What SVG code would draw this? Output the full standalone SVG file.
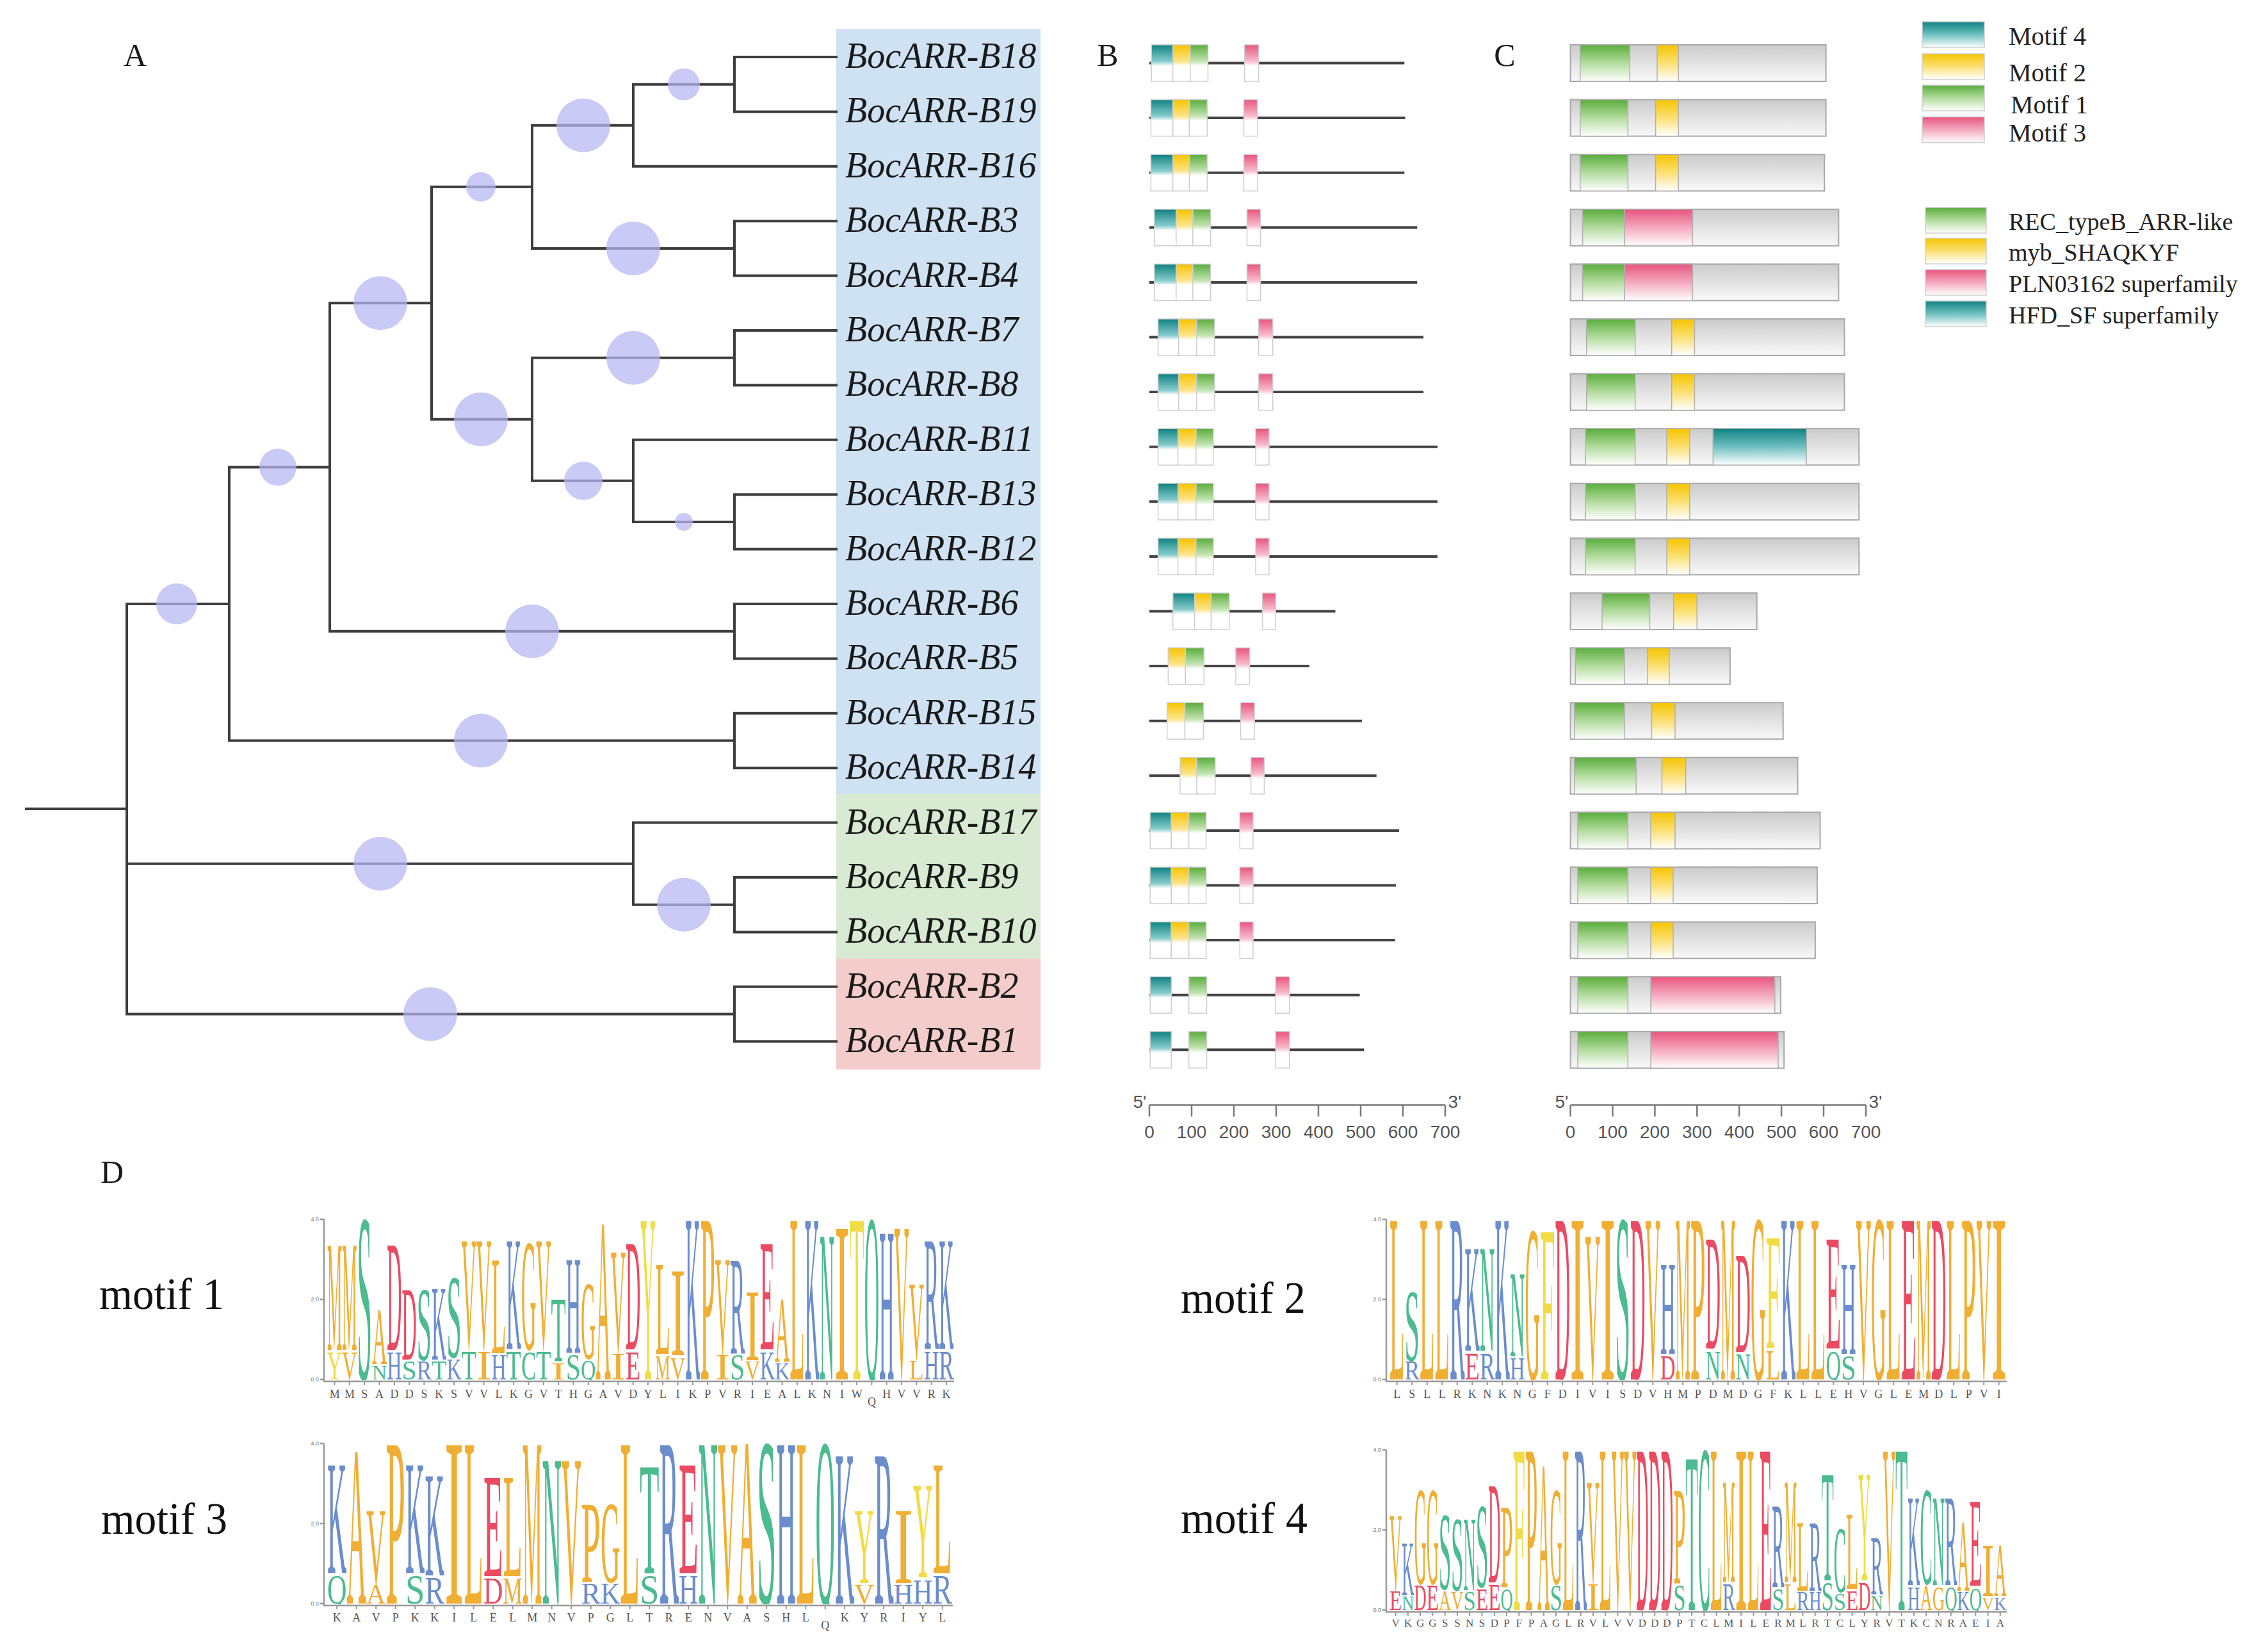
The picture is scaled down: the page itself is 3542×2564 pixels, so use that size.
<svg xmlns="http://www.w3.org/2000/svg" width="3542" height="2564" viewBox="0 0 3542 2564">
<defs>
<linearGradient id="gT" x1="0" y1="0" x2="0" y2="1"><stop offset="0" stop-color="#0f8282"/><stop offset="0.45" stop-color="#86cccc"/><stop offset="0.58" stop-color="#ffffff"/><stop offset="1" stop-color="#ffffff"/></linearGradient>
<linearGradient id="gY" x1="0" y1="0" x2="0" y2="1"><stop offset="0" stop-color="#f6c400"/><stop offset="0.45" stop-color="#fde48a"/><stop offset="0.58" stop-color="#ffffff"/><stop offset="1" stop-color="#ffffff"/></linearGradient>
<linearGradient id="gG" x1="0" y1="0" x2="0" y2="1"><stop offset="0" stop-color="#5aad3c"/><stop offset="0.45" stop-color="#c3e4b2"/><stop offset="0.58" stop-color="#ffffff"/><stop offset="1" stop-color="#ffffff"/></linearGradient>
<linearGradient id="gP" x1="0" y1="0" x2="0" y2="1"><stop offset="0" stop-color="#e9557e"/><stop offset="0.45" stop-color="#f7bccd"/><stop offset="0.58" stop-color="#ffffff"/><stop offset="1" stop-color="#ffffff"/></linearGradient>
<linearGradient id="cT" x1="0" y1="0" x2="0" y2="1"><stop offset="0" stop-color="#0f8282"/><stop offset="0.5" stop-color="#6fc0c0"/><stop offset="1" stop-color="#ffffff"/></linearGradient>
<linearGradient id="cY" x1="0" y1="0" x2="0" y2="1"><stop offset="0" stop-color="#f6c400"/><stop offset="0.5" stop-color="#fbe074"/><stop offset="1" stop-color="#ffffff"/></linearGradient>
<linearGradient id="cG" x1="0" y1="0" x2="0" y2="1"><stop offset="0" stop-color="#5aad3c"/><stop offset="0.5" stop-color="#b3dc9e"/><stop offset="1" stop-color="#ffffff"/></linearGradient>
<linearGradient id="cP" x1="0" y1="0" x2="0" y2="1"><stop offset="0" stop-color="#e9557e"/><stop offset="0.5" stop-color="#f4a9bf"/><stop offset="1" stop-color="#ffffff"/></linearGradient>
<linearGradient id="cGr" x1="0" y1="0" x2="0" y2="1"><stop offset="0" stop-color="#cbcbcb"/><stop offset="0.5" stop-color="#e2e2e2"/><stop offset="1" stop-color="#f9f9f9"/></linearGradient>
<clipPath id="lc" clipPathUnits="userSpaceOnUse"><rect x="-2" y="-20" width="604" height="120.5"/></clipPath>
<style>
.tl{fill:none;stroke:#3d3d3d;stroke-width:4;stroke-linecap:square}
.bs{fill:#b5b5f2;fill-opacity:0.72}
.lab{font-family:"Liberation Serif",serif;font-style:italic;font-size:56px;fill:#1a1a1a}
.pan{font-family:"Liberation Serif",serif;font-size:50px;fill:#1a1a1a;text-anchor:middle}
.gl{stroke:#444;stroke-width:4}
.bx{stroke:#cfcfcf;stroke-width:1.5}
.dm{stroke:#b0b0b0;stroke-width:1.5}
.bar{fill:url(#cGr);stroke:#a8a8a8;stroke-width:2}
.ax{stroke:#7a7a7a;stroke-width:2.5;fill:none}
.axt{font-family:"Liberation Sans",sans-serif;font-size:28px;fill:#555;text-anchor:middle}
.lt{font-family:"Liberation Serif",serif;font-size:40px;fill:#222}
.dt{font-family:"Liberation Serif",serif;font-size:38px;fill:#222}
.mt{font-family:"Liberation Serif",serif;font-size:70px;fill:#111}
.lg text{font-family:"Liberation Serif",serif}
.g{fill:#f0ae33}.y{fill:#f1dc45}.r{fill:#eb4a63}.b{fill:#6b8dcc}.n{fill:#4cbb8f}
.cs{font-family:"Liberation Serif",serif;font-size:18px;fill:#555;text-anchor:middle}
.lax{fill:none;stroke:#999;stroke-width:2.5}
.tk{stroke:#999;stroke-width:6}
.tkl{font-family:"Liberation Sans",sans-serif;font-size:9px;fill:#777;text-anchor:end}
</style>
</defs>
<rect width="3542" height="2564" fill="#ffffff"/>

<g id="panel-labels">
<text class="pan" x="211" y="103">A</text>
<text class="pan" x="1730" y="103">B</text>
<text class="pan" x="2350" y="103">C</text>
<text class="pan" x="175" y="1847">D</text>
</g>

<g id="clade-backgrounds">
<rect x="1306" y="45" width="319" height="1195" fill="#cfe2f3"/>
<rect x="1306" y="1240" width="319" height="257" fill="#d9ead3"/>
<rect x="1306" y="1497" width="319" height="173" fill="#f4cccc"/>
</g>

<g id="tree-branches">
<path class="tl" d="M41 1263H198M198 943V1583.5M198 943H358M198 1348.65H989M198 1583.5H1147
M358 729.5V1156.5M358 729.5H515M358 1156.5H1147
M515 473.3V985.7M515 473.3H674M515 985.7H1147
M674 291.8V654.8M674 291.8H831M674 654.8H831
M831 195.75V387.9M831 195.75H989M831 387.9H1147
M989 131.7V259.8M989 131.7H1147M989 259.8H1306
M1147 89V174.4M1147 89H1306M1147 174.4H1306
M1147 345.2V430.6M1147 345.2H1306M1147 430.6H1306
M831 558.7V750.85M831 558.7H1147M831 750.85H989
M1147 516V601.4M1147 516H1306M1147 601.4H1306
M989 686.8V814.9M989 686.8H1306M989 814.9H1147
M1147 772.2V857.6M1147 772.2H1306M1147 857.6H1306
M1147 943V1028.4M1147 943H1306M1147 1028.4H1306
M1147 1113.8V1199.2M1147 1113.8H1306M1147 1199.2H1306
M989 1284.6V1412.7M989 1284.6H1306M989 1412.7H1147
M1147 1370V1455.4M1147 1370H1306M1147 1455.4H1306
M1147 1540.8V1626.2M1147 1540.8H1306M1147 1626.2H1306"/>
</g>

<g id="bootstrap-circles">
<circle class="bs" cx="1068" cy="131.7" r="25"/>
<circle class="bs" cx="911" cy="195.75" r="42"/>
<circle class="bs" cx="751" cy="291.8" r="23"/>
<circle class="bs" cx="989" cy="387.9" r="42"/>
<circle class="bs" cx="594" cy="473.3" r="42"/>
<circle class="bs" cx="989" cy="558.7" r="42"/>
<circle class="bs" cx="751" cy="654.8" r="42"/>
<circle class="bs" cx="911" cy="750.85" r="30"/>
<circle class="bs" cx="1068" cy="814.9" r="14"/>
<circle class="bs" cx="434" cy="729.5" r="29"/>
<circle class="bs" cx="831" cy="985.7" r="42"/>
<circle class="bs" cx="276" cy="943" r="32"/>
<circle class="bs" cx="751" cy="1156.5" r="42"/>
<circle class="bs" cx="594" cy="1348.65" r="42"/>
<circle class="bs" cx="1068" cy="1412.7" r="42"/>
<circle class="bs" cx="672" cy="1583.5" r="42"/>
</g>

<g id="leaf-labels">
<g id="leaf-B18"><text class="lab" x="1320" y="106">BocARR-B18</text></g>
<g id="leaf-B19"><text class="lab" x="1320" y="191.4">BocARR-B19</text></g>
<g id="leaf-B16"><text class="lab" x="1320" y="276.8">BocARR-B16</text></g>
<g id="leaf-B3"><text class="lab" x="1320" y="362.2">BocARR-B3</text></g>
<g id="leaf-B4"><text class="lab" x="1320" y="447.6">BocARR-B4</text></g>
<g id="leaf-B7"><text class="lab" x="1320" y="533">BocARR-B7</text></g>
<g id="leaf-B8"><text class="lab" x="1320" y="618.4">BocARR-B8</text></g>
<g id="leaf-B11"><text class="lab" x="1320" y="703.8">BocARR-B11</text></g>
<g id="leaf-B13"><text class="lab" x="1320" y="789.2">BocARR-B13</text></g>
<g id="leaf-B12"><text class="lab" x="1320" y="874.6">BocARR-B12</text></g>
<g id="leaf-B6"><text class="lab" x="1320" y="960">BocARR-B6</text></g>
<g id="leaf-B5"><text class="lab" x="1320" y="1045.4">BocARR-B5</text></g>
<g id="leaf-B15"><text class="lab" x="1320" y="1130.8">BocARR-B15</text></g>
<g id="leaf-B14"><text class="lab" x="1320" y="1216.2">BocARR-B14</text></g>
<g id="leaf-B17"><text class="lab" x="1320" y="1301.6">BocARR-B17</text></g>
<g id="leaf-B9"><text class="lab" x="1320" y="1387">BocARR-B9</text></g>
<g id="leaf-B10"><text class="lab" x="1320" y="1472.4">BocARR-B10</text></g>
<g id="leaf-B2"><text class="lab" x="1320" y="1557.8">BocARR-B2</text></g>
<g id="leaf-B1"><text class="lab" x="1320" y="1643.2">BocARR-B1</text></g>
</g>

<g id="panel-B-genes">
<g id="gB18"><line class="gl" x1="1795" y1="98.5" x2="2193.3" y2="98.5"/><rect class="bx" x="1798.2" y="70" width="33.6" height="57" fill="url(#gT)"/><rect class="bx" x="1831.8" y="70" width="27" height="57" fill="url(#gY)"/><rect class="bx" x="1858.8" y="70" width="27.7" height="57" fill="url(#gG)"/><rect class="bx" x="1943.7" y="70" width="22" height="57" fill="url(#gP)"/></g>
<g id="gB19"><line class="gl" x1="1795" y1="184.1" x2="2194.5" y2="184.1"/><rect class="bx" x="1797.4" y="155.6" width="34.4" height="57" fill="url(#gT)"/><rect class="bx" x="1831.8" y="155.6" width="25.7" height="57" fill="url(#gY)"/><rect class="bx" x="1857.5" y="155.6" width="27.8" height="57" fill="url(#gG)"/><rect class="bx" x="1942.5" y="155.6" width="21.1" height="57" fill="url(#gP)"/></g>
<g id="gB16"><line class="gl" x1="1795" y1="269.7" x2="2193.3" y2="269.7"/><rect class="bx" x="1797.4" y="241.2" width="34.4" height="57" fill="url(#gT)"/><rect class="bx" x="1831.8" y="241.2" width="25.7" height="57" fill="url(#gY)"/><rect class="bx" x="1857.5" y="241.2" width="27.8" height="57" fill="url(#gG)"/><rect class="bx" x="1942.5" y="241.2" width="21.1" height="57" fill="url(#gP)"/></g>
<g id="gB3"><line class="gl" x1="1795" y1="355.3" x2="2213.2" y2="355.3"/><rect class="bx" x="1802.8" y="326.8" width="34" height="57" fill="url(#gT)"/><rect class="bx" x="1836.8" y="326.8" width="26.1" height="57" fill="url(#gY)"/><rect class="bx" x="1862.9" y="326.8" width="27.8" height="57" fill="url(#gG)"/><rect class="bx" x="1947.5" y="326.8" width="21.1" height="57" fill="url(#gP)"/></g>
<g id="gB4"><line class="gl" x1="1795" y1="440.9" x2="2213.2" y2="440.9"/><rect class="bx" x="1802.8" y="412.4" width="34" height="57" fill="url(#gT)"/><rect class="bx" x="1836.8" y="412.4" width="26.1" height="57" fill="url(#gY)"/><rect class="bx" x="1862.9" y="412.4" width="27.8" height="57" fill="url(#gG)"/><rect class="bx" x="1947.5" y="412.4" width="21.1" height="57" fill="url(#gP)"/></g>
<g id="gB7"><line class="gl" x1="1795" y1="526.5" x2="2223.1" y2="526.5"/><rect class="bx" x="1808.6" y="498" width="32.3" height="57" fill="url(#gT)"/><rect class="bx" x="1840.9" y="498" width="27.8" height="57" fill="url(#gY)"/><rect class="bx" x="1868.7" y="498" width="28.2" height="57" fill="url(#gG)"/><rect class="bx" x="1965.7" y="498" width="22" height="57" fill="url(#gP)"/></g>
<g id="gB8"><line class="gl" x1="1795" y1="612.1" x2="2223.1" y2="612.1"/><rect class="bx" x="1808.6" y="583.6" width="32.3" height="57" fill="url(#gT)"/><rect class="bx" x="1840.9" y="583.6" width="27.8" height="57" fill="url(#gY)"/><rect class="bx" x="1868.7" y="583.6" width="28.2" height="57" fill="url(#gG)"/><rect class="bx" x="1965.7" y="583.6" width="22" height="57" fill="url(#gP)"/></g>
<g id="gB11"><line class="gl" x1="1795" y1="697.7" x2="2245" y2="697.7"/><rect class="bx" x="1808.6" y="669.2" width="31.1" height="57" fill="url(#gT)"/><rect class="bx" x="1839.7" y="669.2" width="28.2" height="57" fill="url(#gY)"/><rect class="bx" x="1867.9" y="669.2" width="26.9" height="57" fill="url(#gG)"/><rect class="bx" x="1961.1" y="669.2" width="20.8" height="57" fill="url(#gP)"/></g>
<g id="gB13"><line class="gl" x1="1795" y1="783.3" x2="2245" y2="783.3"/><rect class="bx" x="1808.6" y="754.8" width="31.1" height="57" fill="url(#gT)"/><rect class="bx" x="1839.7" y="754.8" width="28.2" height="57" fill="url(#gY)"/><rect class="bx" x="1867.9" y="754.8" width="26.9" height="57" fill="url(#gG)"/><rect class="bx" x="1961.1" y="754.8" width="20.8" height="57" fill="url(#gP)"/></g>
<g id="gB12"><line class="gl" x1="1795" y1="868.9" x2="2245" y2="868.9"/><rect class="bx" x="1808.6" y="840.4" width="31.1" height="57" fill="url(#gT)"/><rect class="bx" x="1839.7" y="840.4" width="28.2" height="57" fill="url(#gY)"/><rect class="bx" x="1867.9" y="840.4" width="26.9" height="57" fill="url(#gG)"/><rect class="bx" x="1961.1" y="840.4" width="20.8" height="57" fill="url(#gP)"/></g>
<g id="gB6"><line class="gl" x1="1795" y1="954.5" x2="2085.5" y2="954.5"/><rect class="bx" x="1831.8" y="926" width="34" height="57" fill="url(#gT)"/><rect class="bx" x="1865.8" y="926" width="25.7" height="57" fill="url(#gY)"/><rect class="bx" x="1891.5" y="926" width="28.2" height="57" fill="url(#gG)"/><rect class="bx" x="1971.5" y="926" width="20.7" height="57" fill="url(#gP)"/></g>
<g id="gB5"><line class="gl" x1="1795" y1="1040.1" x2="2044.9" y2="1040.1"/><rect class="bx" x="1824.4" y="1011.6" width="26.9" height="57" fill="url(#gY)"/><rect class="bx" x="1851.3" y="1011.6" width="29" height="57" fill="url(#gG)"/><rect class="bx" x="1930" y="1011.6" width="21.6" height="57" fill="url(#gP)"/></g>
<g id="gB15"><line class="gl" x1="1795" y1="1125.7" x2="2126.9" y2="1125.7"/><rect class="bx" x="1822.7" y="1097.2" width="27.8" height="57" fill="url(#gY)"/><rect class="bx" x="1850.5" y="1097.2" width="29" height="57" fill="url(#gG)"/><rect class="bx" x="1937.5" y="1097.2" width="21.6" height="57" fill="url(#gP)"/></g>
<g id="gB14"><line class="gl" x1="1795" y1="1211.3" x2="2149.7" y2="1211.3"/><rect class="bx" x="1843" y="1182.8" width="26.1" height="57" fill="url(#gY)"/><rect class="bx" x="1869.1" y="1182.8" width="28.6" height="57" fill="url(#gG)"/><rect class="bx" x="1953.7" y="1182.8" width="20.7" height="57" fill="url(#gP)"/></g>
<g id="gB17"><line class="gl" x1="1795" y1="1296.9" x2="2185" y2="1296.9"/><rect class="bx" x="1796.2" y="1268.4" width="33.1" height="57" fill="url(#gT)"/><rect class="bx" x="1829.3" y="1268.4" width="27.4" height="57" fill="url(#gY)"/><rect class="bx" x="1856.7" y="1268.4" width="26.9" height="57" fill="url(#gG)"/><rect class="bx" x="1936.3" y="1268.4" width="20.7" height="57" fill="url(#gP)"/></g>
<g id="gB9"><line class="gl" x1="1795" y1="1382.5" x2="2180" y2="1382.5"/><rect class="bx" x="1796.2" y="1354" width="33.1" height="57" fill="url(#gT)"/><rect class="bx" x="1829.3" y="1354" width="27.4" height="57" fill="url(#gY)"/><rect class="bx" x="1856.7" y="1354" width="26.9" height="57" fill="url(#gG)"/><rect class="bx" x="1936.3" y="1354" width="20.7" height="57" fill="url(#gP)"/></g>
<g id="gB10"><line class="gl" x1="1795" y1="1468.1" x2="2178.8" y2="1468.1"/><rect class="bx" x="1796.2" y="1439.6" width="33.1" height="57" fill="url(#gT)"/><rect class="bx" x="1829.3" y="1439.6" width="27.4" height="57" fill="url(#gY)"/><rect class="bx" x="1856.7" y="1439.6" width="26.9" height="57" fill="url(#gG)"/><rect class="bx" x="1936.3" y="1439.6" width="20.7" height="57" fill="url(#gP)"/></g>
<g id="gB2"><line class="gl" x1="1795" y1="1553.7" x2="2123.6" y2="1553.7"/><rect class="bx" x="1796.2" y="1525.2" width="33.1" height="57" fill="url(#gT)"/><rect class="bx" x="1856.7" y="1525.2" width="27.8" height="57" fill="url(#gG)"/><rect class="bx" x="1992.2" y="1525.2" width="21.6" height="57" fill="url(#gP)"/></g>
<g id="gB1"><line class="gl" x1="1795" y1="1639.3" x2="2130.3" y2="1639.3"/><rect class="bx" x="1796.2" y="1610.8" width="33.1" height="57" fill="url(#gT)"/><rect class="bx" x="1856.7" y="1610.8" width="27.8" height="57" fill="url(#gG)"/><rect class="bx" x="1992.2" y="1610.8" width="21.6" height="57" fill="url(#gP)"/></g>
</g>

<g id="scale-B">
<path class="ax" d="M1795 1725.5H2257M1795 1725.5v18M1861 1725.5v18M1927 1725.5v18M1993 1725.5v18M2059 1725.5v18M2125 1725.5v18M2191 1725.5v18M2257 1725.5v18"/>
<text class="axt" x="1780" y="1730">5'</text><text class="axt" x="2272" y="1730">3'</text>
<text class="axt" x="1795" y="1777">0</text><text class="axt" x="1861" y="1777">100</text><text class="axt" x="1927" y="1777">200</text><text class="axt" x="1993" y="1777">300</text><text class="axt" x="2059" y="1777">400</text><text class="axt" x="2125" y="1777">500</text><text class="axt" x="2191" y="1777">600</text><text class="axt" x="2257" y="1777">700</text>
</g>

<g id="panel-C-proteins">
<g id="pB18"><rect class="bar" x="2452.6" y="70" width="399" height="57"/><rect class="dm" x="2467.8" y="70" width="77.5" height="57" fill="url(#cG)"/><rect class="dm" x="2588" y="70" width="33.3" height="57" fill="url(#cY)"/></g>
<g id="pB19"><rect class="bar" x="2452.6" y="155.6" width="399" height="57"/><rect class="dm" x="2467.8" y="155.6" width="74.5" height="57" fill="url(#cG)"/><rect class="dm" x="2585.6" y="155.6" width="35.7" height="57" fill="url(#cY)"/></g>
<g id="pB16"><rect class="bar" x="2452.6" y="241.2" width="396.7" height="57"/><rect class="dm" x="2467.8" y="241.2" width="74.5" height="57" fill="url(#cG)"/><rect class="dm" x="2585.6" y="241.2" width="35.7" height="57" fill="url(#cY)"/></g>
<g id="pB3"><rect class="bar" x="2452.6" y="326.8" width="418.8" height="57"/><rect class="dm" x="2471.6" y="326.8" width="65.4" height="57" fill="url(#cG)"/><rect class="dm" x="2537" y="326.8" width="106.4" height="57" fill="url(#cP)"/></g>
<g id="pB4"><rect class="bar" x="2452.6" y="412.4" width="418.8" height="57"/><rect class="dm" x="2471.6" y="412.4" width="65.4" height="57" fill="url(#cG)"/><rect class="dm" x="2537" y="412.4" width="106.4" height="57" fill="url(#cP)"/></g>
<g id="pB7"><rect class="bar" x="2452.6" y="498" width="427.9" height="57"/><rect class="dm" x="2477.7" y="498" width="76" height="57" fill="url(#cG)"/><rect class="dm" x="2610.7" y="498" width="35.7" height="57" fill="url(#cY)"/></g>
<g id="pB8"><rect class="bar" x="2452.6" y="583.6" width="427.9" height="57"/><rect class="dm" x="2477.7" y="583.6" width="76" height="57" fill="url(#cG)"/><rect class="dm" x="2610.7" y="583.6" width="35.7" height="57" fill="url(#cY)"/></g>
<g id="pB11"><rect class="bar" x="2452.6" y="669.2" width="450.7" height="57"/><rect class="dm" x="2476.2" y="669.2" width="77.5" height="57" fill="url(#cG)"/><rect class="dm" x="2603" y="669.2" width="35.8" height="57" fill="url(#cY)"/><rect class="dm" x="2675.3" y="669.2" width="145.9" height="57" fill="url(#cT)"/></g>
<g id="pB13"><rect class="bar" x="2452.6" y="754.8" width="450.7" height="57"/><rect class="dm" x="2476.2" y="754.8" width="77.5" height="57" fill="url(#cG)"/><rect class="dm" x="2603" y="754.8" width="35.8" height="57" fill="url(#cY)"/></g>
<g id="pB12"><rect class="bar" x="2452.6" y="840.4" width="450.7" height="57"/><rect class="dm" x="2476.2" y="840.4" width="77.5" height="57" fill="url(#cG)"/><rect class="dm" x="2603" y="840.4" width="35.8" height="57" fill="url(#cY)"/></g>
<g id="pB6"><rect class="bar" x="2452.6" y="926" width="291.1" height="57"/><rect class="dm" x="2502" y="926" width="74.5" height="57" fill="url(#cG)"/><rect class="dm" x="2613.7" y="926" width="36.5" height="57" fill="url(#cY)"/></g>
<g id="pB5"><rect class="bar" x="2452.6" y="1011.6" width="249.3" height="57"/><rect class="dm" x="2460.2" y="1011.6" width="76.8" height="57" fill="url(#cG)"/><rect class="dm" x="2572.7" y="1011.6" width="34.2" height="57" fill="url(#cY)"/></g>
<g id="pB15"><rect class="bar" x="2452.6" y="1097.2" width="332.1" height="57"/><rect class="dm" x="2458.7" y="1097.2" width="78.3" height="57" fill="url(#cG)"/><rect class="dm" x="2579.5" y="1097.2" width="36.5" height="57" fill="url(#cY)"/></g>
<g id="pB14"><rect class="bar" x="2452.6" y="1182.8" width="354.9" height="57"/><rect class="dm" x="2458.7" y="1182.8" width="96.5" height="57" fill="url(#cG)"/><rect class="dm" x="2595.5" y="1182.8" width="37.2" height="57" fill="url(#cY)"/></g>
<g id="pB17"><rect class="bar" x="2452.6" y="1268.4" width="389.9" height="57"/><rect class="dm" x="2464" y="1268.4" width="78.3" height="57" fill="url(#cG)"/><rect class="dm" x="2578" y="1268.4" width="38" height="57" fill="url(#cY)"/></g>
<g id="pB9"><rect class="bar" x="2452.6" y="1354" width="385.3" height="57"/><rect class="dm" x="2464" y="1354" width="78.3" height="57" fill="url(#cG)"/><rect class="dm" x="2578" y="1354" width="35" height="57" fill="url(#cY)"/></g>
<g id="pB10"><rect class="bar" x="2452.6" y="1439.6" width="382.3" height="57"/><rect class="dm" x="2464" y="1439.6" width="78.3" height="57" fill="url(#cG)"/><rect class="dm" x="2578" y="1439.6" width="35" height="57" fill="url(#cY)"/></g>
<g id="pB2"><rect class="bar" x="2452.6" y="1525.2" width="328.3" height="57"/><rect class="dm" x="2464" y="1525.2" width="78.3" height="57" fill="url(#cG)"/><rect class="dm" x="2578" y="1525.2" width="193.8" height="57" fill="url(#cP)"/></g>
<g id="pB1"><rect class="bar" x="2452.6" y="1610.8" width="333.6" height="57"/><rect class="dm" x="2464" y="1610.8" width="78.3" height="57" fill="url(#cG)"/><rect class="dm" x="2578" y="1610.8" width="199.1" height="57" fill="url(#cP)"/></g>
</g>

<g id="scale-C">
<path class="ax" d="M2452.6 1725.5H2914M2452.6 1725.5v18M2518.5 1725.5v18M2584.4 1725.5v18M2650.3 1725.5v18M2716.2 1725.5v18M2782.1 1725.5v18M2848 1725.5v18M2914 1725.5v18"/>
<text class="axt" x="2439" y="1730">5'</text><text class="axt" x="2929" y="1730">3'</text>
<text class="axt" x="2452.6" y="1777">0</text><text class="axt" x="2518.5" y="1777">100</text><text class="axt" x="2584.4" y="1777">200</text><text class="axt" x="2650.3" y="1777">300</text><text class="axt" x="2716.2" y="1777">400</text><text class="axt" x="2782.1" y="1777">500</text><text class="axt" x="2848" y="1777">600</text><text class="axt" x="2914" y="1777">700</text>
</g>

<g id="legend-motifs">
<g id="lm4"><rect class="bx" x="3002" y="34" width="97" height="40" fill="url(#cT)"/><text class="lt" x="3137" y="70">Motif 4</text></g>
<g id="lm2"><rect class="bx" x="3002" y="84" width="97" height="40" fill="url(#cY)"/><text class="lt" x="3137" y="127">Motif 2</text></g>
<g id="lm1"><rect class="bx" x="3002" y="133" width="97" height="40" fill="url(#cG)"/><text class="lt" x="3140" y="177">Motif 1</text></g>
<g id="lm3"><rect class="bx" x="3002" y="182.5" width="97" height="40" fill="url(#cP)"/><text class="lt" x="3137" y="221">Motif 3</text></g>
</g>
<g id="legend-domains">
<g id="ld1"><rect class="bx" x="3007" y="324" width="95" height="40" fill="url(#cG)"/><text class="dt" x="3137" y="359">REC_typeB_ARR-like</text></g>
<g id="ld2"><rect class="bx" x="3007" y="372" width="95" height="40" fill="url(#cY)"/><text class="dt" x="3137" y="407">myb_SHAQKYF</text></g>
<g id="ld3"><rect class="bx" x="3007" y="421" width="95" height="40" fill="url(#cP)"/><text class="dt" x="3137" y="456">PLN03162 superfamily</text></g>
<g id="ld4"><rect class="bx" x="3007" y="470" width="95" height="40" fill="url(#cT)"/><text class="dt" x="3137" y="505">HFD_SF superfamily</text></g>
</g>

<g id="motif-titles">
<text class="mt" x="155" y="2044" textLength="195" lengthAdjust="spacingAndGlyphs">motif 1</text>
<text class="mt" x="1844" y="2050" textLength="195" lengthAdjust="spacingAndGlyphs">motif 2</text>
<text class="mt" x="158" y="2395" textLength="197" lengthAdjust="spacingAndGlyphs">motif 3</text>
<text class="mt" x="1844" y="2394" textLength="198" lengthAdjust="spacingAndGlyphs">motif 4</text>
</g>

<g id="logo1-axes">
<path class="lax" d="M506 1904V2157H1490M500 1904h6M500 2029h6M500 2154h6"/>
<line class="tk" x1="521.6" y1="2160" x2="1490" y2="2160" stroke-dasharray="2 21.3"/>
<text class="tkl" x="498" y="1907">4.0</text><text class="tkl" x="498" y="2032">2.0</text><text class="tkl" x="498" y="2157">0.0</text>
<text class="cs" x="522.7 546 569.3 592.6 615.9 639.2 662.5 685.8 709.1 732.4 755.7 779 802.3 825.6 848.9 872.2 895.5 918.8 942.1 965.4 988.7 1012 1035.3 1058.6 1081.9 1105.2 1128.5 1151.8 1175.1 1198.4 1221.7 1245 1268.3 1291.6 1314.9 1338.2 1384.8 1408.1 1431.4 1454.7 1478" y="2183">MMSADDSKSVVLKGVTHGAVDYLIKPVRIEALKNIWHVVRK</text>
<text class="cs" x="1361.5" y="2195">Q</text>
</g>
<g id="logo1" class="lg" clip-path="url(#lc)" transform="translate(511,1904) scale(2.33,2.5)">
<text class="g" x="0" y="81.5" font-size="99" textLength="10" lengthAdjust="spacingAndGlyphs">M</text><text class="y" x="0" y="100" font-size="25.4" textLength="10" lengthAdjust="spacingAndGlyphs">Y</text>
<text class="g" x="10" y="81.5" font-size="99" textLength="10" lengthAdjust="spacingAndGlyphs">M</text><text class="g" x="10" y="100" font-size="25.4" textLength="10" lengthAdjust="spacingAndGlyphs">V</text>
<text class="n" x="20" y="100" font-size="151" textLength="10" lengthAdjust="spacingAndGlyphs">S</text>
<text class="g" x="30" y="90.5" font-size="50.7" textLength="10" lengthAdjust="spacingAndGlyphs">A</text><text class="n" x="30" y="100" font-size="13" textLength="10" lengthAdjust="spacingAndGlyphs">N</text>
<text class="r" x="40" y="81.5" font-size="99" textLength="10" lengthAdjust="spacingAndGlyphs">D</text><text class="b" x="40" y="100" font-size="25.4" textLength="10" lengthAdjust="spacingAndGlyphs">H</text>
<text class="r" x="50" y="87.7" font-size="66" textLength="10" lengthAdjust="spacingAndGlyphs">D</text><text class="n" x="50" y="100" font-size="16.9" textLength="10" lengthAdjust="spacingAndGlyphs">S</text>
<text class="n" x="60" y="87.7" font-size="66" textLength="10" lengthAdjust="spacingAndGlyphs">S</text><text class="b" x="60" y="100" font-size="16.9" textLength="10" lengthAdjust="spacingAndGlyphs">R</text>
<text class="b" x="70" y="87.5" font-size="67.1" textLength="10" lengthAdjust="spacingAndGlyphs">K</text><text class="n" x="70" y="100" font-size="17.2" textLength="10" lengthAdjust="spacingAndGlyphs">T</text>
<text class="n" x="80" y="86.1" font-size="74.2" textLength="10" lengthAdjust="spacingAndGlyphs">S</text><text class="b" x="80" y="100" font-size="19" textLength="10" lengthAdjust="spacingAndGlyphs">K</text>
<text class="g" x="90" y="80.9" font-size="102.5" textLength="10" lengthAdjust="spacingAndGlyphs">V</text><text class="n" x="90" y="100" font-size="26.3" textLength="10" lengthAdjust="spacingAndGlyphs">T</text>
<text class="g" x="100" y="80.9" font-size="102.5" textLength="10" lengthAdjust="spacingAndGlyphs">V</text><text class="g" x="100" y="100" font-size="26.3" textLength="10" lengthAdjust="spacingAndGlyphs">I</text>
<text class="g" x="110" y="83.5" font-size="88.4" textLength="10" lengthAdjust="spacingAndGlyphs">L</text><text class="b" x="110" y="100" font-size="22.7" textLength="10" lengthAdjust="spacingAndGlyphs">H</text>
<text class="b" x="120" y="80.9" font-size="102.5" textLength="10" lengthAdjust="spacingAndGlyphs">K</text><text class="n" x="120" y="100" font-size="26.3" textLength="10" lengthAdjust="spacingAndGlyphs">T</text>
<text class="g" x="130" y="81.3" font-size="100.1" textLength="10" lengthAdjust="spacingAndGlyphs">G</text><text class="n" x="130" y="100" font-size="25.7" textLength="10" lengthAdjust="spacingAndGlyphs">C</text>
<text class="g" x="140" y="80.9" font-size="102.5" textLength="10" lengthAdjust="spacingAndGlyphs">V</text><text class="n" x="140" y="100" font-size="26.3" textLength="10" lengthAdjust="spacingAndGlyphs">T</text>
<text class="n" x="150" y="89" font-size="58.9" textLength="10" lengthAdjust="spacingAndGlyphs">T</text><text class="g" x="150" y="100" font-size="15.1" textLength="10" lengthAdjust="spacingAndGlyphs">I</text>
<text class="b" x="160" y="83.5" font-size="88.4" textLength="10" lengthAdjust="spacingAndGlyphs">H</text><text class="n" x="160" y="100" font-size="22.7" textLength="10" lengthAdjust="spacingAndGlyphs">S</text>
<text class="g" x="170" y="86.8" font-size="70.7" textLength="10" lengthAdjust="spacingAndGlyphs">G</text><text class="n" x="170" y="100" font-size="18.1" textLength="10" lengthAdjust="spacingAndGlyphs">Q</text>
<text class="g" x="180" y="100" font-size="146.5" textLength="10" lengthAdjust="spacingAndGlyphs">A</text>
<text class="g" x="190" y="82.4" font-size="94.2" textLength="10" lengthAdjust="spacingAndGlyphs">V</text><text class="g" x="190" y="100" font-size="24.2" textLength="10" lengthAdjust="spacingAndGlyphs">I</text>
<text class="r" x="200" y="81.3" font-size="100.1" textLength="10" lengthAdjust="spacingAndGlyphs">D</text><text class="r" x="200" y="100" font-size="25.7" textLength="10" lengthAdjust="spacingAndGlyphs">E</text>
<text class="y" x="210" y="100" font-size="151" textLength="10" lengthAdjust="spacingAndGlyphs">Y</text>
<text class="g" x="220" y="84.2" font-size="84.8" textLength="10" lengthAdjust="spacingAndGlyphs">L</text><text class="g" x="220" y="100" font-size="21.7" textLength="10" lengthAdjust="spacingAndGlyphs">M</text>
<text class="g" x="230" y="85" font-size="80.1" textLength="10" lengthAdjust="spacingAndGlyphs">I</text><text class="g" x="230" y="100" font-size="20.5" textLength="10" lengthAdjust="spacingAndGlyphs">V</text>
<text class="b" x="240" y="100" font-size="151" textLength="10" lengthAdjust="spacingAndGlyphs">K</text>
<text class="g" x="250" y="100" font-size="151" textLength="10" lengthAdjust="spacingAndGlyphs">P</text>
<text class="g" x="260" y="83.5" font-size="88.4" textLength="10" lengthAdjust="spacingAndGlyphs">V</text><text class="g" x="260" y="100" font-size="22.7" textLength="10" lengthAdjust="spacingAndGlyphs">I</text>
<text class="b" x="270" y="83.5" font-size="88.4" textLength="10" lengthAdjust="spacingAndGlyphs">R</text><text class="n" x="270" y="100" font-size="22.7" textLength="10" lengthAdjust="spacingAndGlyphs">S</text>
<text class="g" x="280" y="87.9" font-size="64.8" textLength="10" lengthAdjust="spacingAndGlyphs">I</text><text class="g" x="280" y="100" font-size="16.6" textLength="10" lengthAdjust="spacingAndGlyphs">V</text>
<text class="r" x="290" y="81.3" font-size="100.1" textLength="10" lengthAdjust="spacingAndGlyphs">E</text><text class="b" x="290" y="100" font-size="25.7" textLength="10" lengthAdjust="spacingAndGlyphs">K</text>
<text class="g" x="300" y="89" font-size="58.9" textLength="10" lengthAdjust="spacingAndGlyphs">A</text><text class="b" x="300" y="100" font-size="15.1" textLength="10" lengthAdjust="spacingAndGlyphs">K</text>
<text class="g" x="310" y="100" font-size="151" textLength="10" lengthAdjust="spacingAndGlyphs">L</text>
<text class="b" x="320" y="100" font-size="151" textLength="10" lengthAdjust="spacingAndGlyphs">K</text>
<text class="n" x="330" y="100" font-size="135.9" textLength="10" lengthAdjust="spacingAndGlyphs">N</text>
<text class="g" x="340" y="100" font-size="143.5" textLength="10" lengthAdjust="spacingAndGlyphs">I</text>
<text class="y" x="350" y="100" font-size="151" textLength="10" lengthAdjust="spacingAndGlyphs">T</text>
<text class="n" x="360" y="100" font-size="151" textLength="10" lengthAdjust="spacingAndGlyphs">Q</text>
<text class="b" x="370" y="100" font-size="138.9" textLength="10" lengthAdjust="spacingAndGlyphs">H</text>
<text class="g" x="380" y="100" font-size="143.5" textLength="10" lengthAdjust="spacingAndGlyphs">V</text>
<text class="g" x="390" y="86.8" font-size="70.7" textLength="10" lengthAdjust="spacingAndGlyphs">V</text><text class="g" x="390" y="100" font-size="18.1" textLength="10" lengthAdjust="spacingAndGlyphs">L</text>
<text class="b" x="400" y="80.9" font-size="102.5" textLength="10" lengthAdjust="spacingAndGlyphs">R</text><text class="b" x="400" y="100" font-size="26.3" textLength="10" lengthAdjust="spacingAndGlyphs">H</text>
<text class="b" x="410" y="80.9" font-size="102.5" textLength="10" lengthAdjust="spacingAndGlyphs">K</text><text class="b" x="410" y="100" font-size="26.3" textLength="10" lengthAdjust="spacingAndGlyphs">R</text>
</g>

<g id="logo2-axes">
<path class="lax" d="M2165 1904V2157H3134M2159 1904h6M2159 2029h6M2159 2154h6"/>
<line class="tk" x1="2180.7" y1="2160" x2="3134" y2="2160" stroke-dasharray="2 21.5"/>
<text class="tkl" x="2157" y="1907">4.0</text><text class="tkl" x="2157" y="2032">2.0</text><text class="tkl" x="2157" y="2157">0.0</text>
<text class="cs" x="2181.8 2205.3 2228.8 2252.3 2275.8 2299.3 2322.8 2346.3 2369.8 2393.3 2416.8 2440.3 2463.8 2487.3 2510.8 2534.3 2557.8 2581.3 2604.8 2628.3 2651.8 2675.3 2698.8 2722.3 2745.8 2769.3 2792.8 2816.3 2839.8 2863.3 2886.8 2910.3 2933.8 2957.3 2980.8 3004.3 3027.8 3051.3 3074.8 3098.3 3121.8" y="2183">LSLLRKNKNGFDIVISDVHMPDMDGFKLLEHVGLEMDLPVI</text>
</g>
<g id="logo2" class="lg" clip-path="url(#lc)" transform="translate(2170,1904) scale(2.35,2.5)">
<text class="g" x="0" y="100" font-size="151" textLength="10" lengthAdjust="spacingAndGlyphs">L</text>
<text class="n" x="10" y="87.9" font-size="64.8" textLength="10" lengthAdjust="spacingAndGlyphs">S</text><text class="b" x="10" y="100" font-size="16.6" textLength="10" lengthAdjust="spacingAndGlyphs">R</text>
<text class="g" x="20" y="100" font-size="151" textLength="10" lengthAdjust="spacingAndGlyphs">L</text>
<text class="g" x="30" y="100" font-size="151" textLength="10" lengthAdjust="spacingAndGlyphs">L</text>
<text class="b" x="40" y="100" font-size="151" textLength="10" lengthAdjust="spacingAndGlyphs">R</text>
<text class="b" x="50" y="82" font-size="96.6" textLength="10" lengthAdjust="spacingAndGlyphs">K</text><text class="r" x="50" y="100" font-size="24.8" textLength="10" lengthAdjust="spacingAndGlyphs">E</text>
<text class="n" x="60" y="82" font-size="96.6" textLength="10" lengthAdjust="spacingAndGlyphs">N</text><text class="b" x="60" y="100" font-size="24.8" textLength="10" lengthAdjust="spacingAndGlyphs">R</text>
<text class="b" x="70" y="100" font-size="151" textLength="10" lengthAdjust="spacingAndGlyphs">K</text>
<text class="n" x="80" y="85.5" font-size="77.7" textLength="10" lengthAdjust="spacingAndGlyphs">N</text><text class="b" x="80" y="100" font-size="19.9" textLength="10" lengthAdjust="spacingAndGlyphs">H</text>
<text class="g" x="90" y="100" font-size="140.4" textLength="10" lengthAdjust="spacingAndGlyphs">G</text>
<text class="y" x="100" y="100" font-size="140.4" textLength="10" lengthAdjust="spacingAndGlyphs">F</text>
<text class="r" x="110" y="100" font-size="151" textLength="10" lengthAdjust="spacingAndGlyphs">D</text>
<text class="g" x="120" y="100" font-size="151" textLength="10" lengthAdjust="spacingAndGlyphs">I</text>
<text class="g" x="130" y="100" font-size="135.9" textLength="10" lengthAdjust="spacingAndGlyphs">V</text>
<text class="g" x="140" y="100" font-size="151" textLength="10" lengthAdjust="spacingAndGlyphs">I</text>
<text class="n" x="150" y="100" font-size="151" textLength="10" lengthAdjust="spacingAndGlyphs">S</text>
<text class="r" x="160" y="100" font-size="151" textLength="10" lengthAdjust="spacingAndGlyphs">D</text>
<text class="g" x="170" y="100" font-size="151" textLength="10" lengthAdjust="spacingAndGlyphs">V</text>
<text class="b" x="180" y="84.2" font-size="84.8" textLength="10" lengthAdjust="spacingAndGlyphs">H</text><text class="r" x="180" y="100" font-size="21.7" textLength="10" lengthAdjust="spacingAndGlyphs">D</text>
<text class="g" x="190" y="100" font-size="151" textLength="10" lengthAdjust="spacingAndGlyphs">M</text>
<text class="g" x="200" y="100" font-size="151" textLength="10" lengthAdjust="spacingAndGlyphs">P</text>
<text class="r" x="210" y="80.6" font-size="103.7" textLength="10" lengthAdjust="spacingAndGlyphs">D</text><text class="n" x="210" y="100" font-size="26.6" textLength="10" lengthAdjust="spacingAndGlyphs">N</text>
<text class="g" x="220" y="100" font-size="151" textLength="10" lengthAdjust="spacingAndGlyphs">M</text>
<text class="r" x="230" y="82.8" font-size="91.9" textLength="10" lengthAdjust="spacingAndGlyphs">D</text><text class="n" x="230" y="100" font-size="23.6" textLength="10" lengthAdjust="spacingAndGlyphs">N</text>
<text class="g" x="240" y="100" font-size="151" textLength="10" lengthAdjust="spacingAndGlyphs">G</text>
<text class="y" x="250" y="80.4" font-size="104.8" textLength="10" lengthAdjust="spacingAndGlyphs">F</text><text class="g" x="250" y="100" font-size="26.9" textLength="10" lengthAdjust="spacingAndGlyphs">L</text>
<text class="b" x="260" y="100" font-size="151" textLength="10" lengthAdjust="spacingAndGlyphs">K</text>
<text class="g" x="270" y="100" font-size="151" textLength="10" lengthAdjust="spacingAndGlyphs">L</text>
<text class="g" x="280" y="100" font-size="151" textLength="10" lengthAdjust="spacingAndGlyphs">L</text>
<text class="r" x="290" y="80.6" font-size="103.7" textLength="10" lengthAdjust="spacingAndGlyphs">E</text><text class="n" x="290" y="100" font-size="26.6" textLength="10" lengthAdjust="spacingAndGlyphs">Q</text>
<text class="b" x="300" y="84.2" font-size="84.8" textLength="10" lengthAdjust="spacingAndGlyphs">H</text><text class="n" x="300" y="100" font-size="21.7" textLength="10" lengthAdjust="spacingAndGlyphs">S</text>
<text class="g" x="310" y="100" font-size="151" textLength="10" lengthAdjust="spacingAndGlyphs">V</text>
<text class="g" x="320" y="100" font-size="151" textLength="10" lengthAdjust="spacingAndGlyphs">G</text>
<text class="g" x="330" y="100" font-size="151" textLength="10" lengthAdjust="spacingAndGlyphs">L</text>
<text class="r" x="340" y="100" font-size="151" textLength="10" lengthAdjust="spacingAndGlyphs">E</text>
<text class="g" x="350" y="100" font-size="151" textLength="10" lengthAdjust="spacingAndGlyphs">M</text>
<text class="r" x="360" y="100" font-size="151" textLength="10" lengthAdjust="spacingAndGlyphs">D</text>
<text class="g" x="370" y="100" font-size="151" textLength="10" lengthAdjust="spacingAndGlyphs">L</text>
<text class="g" x="380" y="100" font-size="151" textLength="10" lengthAdjust="spacingAndGlyphs">P</text>
<text class="g" x="390" y="100" font-size="151" textLength="10" lengthAdjust="spacingAndGlyphs">V</text>
<text class="g" x="400" y="100" font-size="151" textLength="10" lengthAdjust="spacingAndGlyphs">I</text>
</g>

<g id="logo3-axes">
<path class="lax" d="M506 2254V2507H1488M500 2254h6M500 2379h6M500 2504h6"/>
<line class="tk" x1="525.2" y1="2510" x2="1488" y2="2510" stroke-dasharray="2 28.5"/>
<text class="tkl" x="498" y="2257">4.0</text><text class="tkl" x="498" y="2382">2.0</text><text class="tkl" x="498" y="2507">0.0</text>
<text class="cs" x="526.3 556.8 587.3 617.8 648.3 678.8 709.3 739.8 770.3 800.8 831.3 861.8 892.3 922.8 953.3 983.8 1014.3 1044.8 1075.3 1105.8 1136.3 1166.8 1197.3 1227.8 1258.3 1319.3 1349.8 1380.3 1410.8 1441.3 1471.8" y="2532">KAVPKKILELMNVPGLTRENVASHLKYRIYL</text>
<text class="cs" x="1288.8" y="2544">Q</text>
</g>
<g id="logo3" class="lg" clip-path="url(#lc)" transform="translate(511,2254) scale(3.05,2.5)">
<text class="b" x="0" y="80.9" font-size="102.5" textLength="10" lengthAdjust="spacingAndGlyphs">K</text><text class="n" x="0" y="100" font-size="26.3" textLength="10" lengthAdjust="spacingAndGlyphs">Q</text>
<text class="g" x="10" y="100" font-size="143.5" textLength="10" lengthAdjust="spacingAndGlyphs">A</text>
<text class="g" x="20" y="87.2" font-size="68.3" textLength="10" lengthAdjust="spacingAndGlyphs">V</text><text class="g" x="20" y="100" font-size="17.5" textLength="10" lengthAdjust="spacingAndGlyphs">A</text>
<text class="g" x="30" y="100" font-size="151" textLength="10" lengthAdjust="spacingAndGlyphs">P</text>
<text class="b" x="40" y="80.9" font-size="102.5" textLength="10" lengthAdjust="spacingAndGlyphs">K</text><text class="n" x="40" y="100" font-size="26.3" textLength="10" lengthAdjust="spacingAndGlyphs">S</text>
<text class="b" x="50" y="82.4" font-size="94.2" textLength="10" lengthAdjust="spacingAndGlyphs">K</text><text class="b" x="50" y="100" font-size="24.2" textLength="10" lengthAdjust="spacingAndGlyphs">R</text>
<text class="g" x="60" y="100" font-size="151" textLength="10" lengthAdjust="spacingAndGlyphs">I</text>
<text class="g" x="70" y="100" font-size="151" textLength="10" lengthAdjust="spacingAndGlyphs">L</text>
<text class="r" x="80" y="82.6" font-size="93.1" textLength="10" lengthAdjust="spacingAndGlyphs">E</text><text class="r" x="80" y="100" font-size="23.9" textLength="10" lengthAdjust="spacingAndGlyphs">D</text>
<text class="g" x="90" y="82.6" font-size="93.1" textLength="10" lengthAdjust="spacingAndGlyphs">L</text><text class="g" x="90" y="100" font-size="23.9" textLength="10" lengthAdjust="spacingAndGlyphs">M</text>
<text class="g" x="100" y="100" font-size="151" textLength="10" lengthAdjust="spacingAndGlyphs">M</text>
<text class="n" x="110" y="100" font-size="135.9" textLength="10" lengthAdjust="spacingAndGlyphs">N</text>
<text class="g" x="120" y="100" font-size="135.9" textLength="10" lengthAdjust="spacingAndGlyphs">V</text>
<text class="g" x="130" y="86.4" font-size="73" textLength="10" lengthAdjust="spacingAndGlyphs">P</text><text class="b" x="130" y="100" font-size="18.7" textLength="10" lengthAdjust="spacingAndGlyphs">R</text>
<text class="g" x="140" y="86.4" font-size="73" textLength="10" lengthAdjust="spacingAndGlyphs">G</text><text class="b" x="140" y="100" font-size="18.7" textLength="10" lengthAdjust="spacingAndGlyphs">K</text>
<text class="g" x="150" y="100" font-size="151" textLength="10" lengthAdjust="spacingAndGlyphs">L</text>
<text class="n" x="160" y="81.1" font-size="101.3" textLength="10" lengthAdjust="spacingAndGlyphs">T</text><text class="n" x="160" y="100" font-size="26" textLength="10" lengthAdjust="spacingAndGlyphs">S</text>
<text class="b" x="170" y="100" font-size="151" textLength="10" lengthAdjust="spacingAndGlyphs">R</text>
<text class="r" x="180" y="80.9" font-size="102.5" textLength="10" lengthAdjust="spacingAndGlyphs">E</text><text class="b" x="180" y="100" font-size="26.3" textLength="10" lengthAdjust="spacingAndGlyphs">H</text>
<text class="n" x="190" y="100" font-size="151" textLength="10" lengthAdjust="spacingAndGlyphs">N</text>
<text class="g" x="200" y="100" font-size="151" textLength="10" lengthAdjust="spacingAndGlyphs">V</text>
<text class="g" x="210" y="100" font-size="151" textLength="10" lengthAdjust="spacingAndGlyphs">A</text>
<text class="n" x="220" y="100" font-size="151" textLength="10" lengthAdjust="spacingAndGlyphs">S</text>
<text class="b" x="230" y="100" font-size="151" textLength="10" lengthAdjust="spacingAndGlyphs">H</text>
<text class="g" x="240" y="100" font-size="151" textLength="10" lengthAdjust="spacingAndGlyphs">L</text>
<text class="n" x="250" y="100" font-size="151" textLength="10" lengthAdjust="spacingAndGlyphs">Q</text>
<text class="b" x="260" y="100" font-size="140.4" textLength="10" lengthAdjust="spacingAndGlyphs">K</text>
<text class="y" x="270" y="87.2" font-size="68.3" textLength="10" lengthAdjust="spacingAndGlyphs">Y</text><text class="g" x="270" y="100" font-size="17.5" textLength="10" lengthAdjust="spacingAndGlyphs">V</text>
<text class="b" x="280" y="100" font-size="140.4" textLength="10" lengthAdjust="spacingAndGlyphs">R</text>
<text class="g" x="290" y="87.2" font-size="68.3" textLength="10" lengthAdjust="spacingAndGlyphs">I</text><text class="b" x="290" y="100" font-size="17.5" textLength="10" lengthAdjust="spacingAndGlyphs">H</text>
<text class="y" x="300" y="83.7" font-size="87.2" textLength="10" lengthAdjust="spacingAndGlyphs">Y</text><text class="b" x="300" y="100" font-size="22.3" textLength="10" lengthAdjust="spacingAndGlyphs">H</text>
<text class="g" x="310" y="80.9" font-size="102.5" textLength="10" lengthAdjust="spacingAndGlyphs">L</text><text class="b" x="310" y="100" font-size="26.3" textLength="10" lengthAdjust="spacingAndGlyphs">R</text>
</g>

<g id="logo4-axes">
<path class="lax" d="M2165 2264V2517H3134M2159 2264h6M2159 2389h6M2159 2514h6"/>
<line class="tk" x1="2178.6" y1="2520" x2="3134" y2="2520" stroke-dasharray="2 17.27"/>
<text class="tkl" x="2157" y="2267">4.0</text><text class="tkl" x="2157" y="2392">2.0</text><text class="tkl" x="2157" y="2517">0.0</text>
<text class="cs" style="font-size:17px" x="2179.6 2198.9 2218.2 2237.4 2256.7 2276 2295.2 2314.5 2333.8 2353 2372.3 2391.6 2410.8 2430.1 2449.4 2468.7 2487.9 2507.2 2526.5 2545.7 2565 2584.3 2603.5 2622.8 2642.1 2661.4 2680.6 2699.9 2719.2 2738.4 2757.7 2777 2796.2 2815.5 2834.8 2854.1 2873.3 2892.6 2911.9 2931.1 2950.4 2969.7 2988.9 3008.2 3027.5 3046.8 3066 3085.3 3104.6 3123.8" y="2540">VKGGSSNSDPFPAGLRVLVVDDDPTCLMILERMLRTCLYRVTKCNRAEIA</text>
</g>
<g id="logo4" class="lg" clip-path="url(#lc)" transform="translate(2170,2264) scale(1.927,2.5)">
<text class="g" x="0" y="87" font-size="69.5" textLength="10" lengthAdjust="spacingAndGlyphs">V</text><text class="r" x="0" y="100" font-size="17.8" textLength="10" lengthAdjust="spacingAndGlyphs">E</text>
<text class="b" x="10" y="90.8" font-size="49.5" textLength="10" lengthAdjust="spacingAndGlyphs">K</text><text class="n" x="10" y="100" font-size="12.7" textLength="10" lengthAdjust="spacingAndGlyphs">N</text>
<text class="g" x="20" y="83.5" font-size="88.4" textLength="10" lengthAdjust="spacingAndGlyphs">G</text><text class="r" x="20" y="100" font-size="22.7" textLength="10" lengthAdjust="spacingAndGlyphs">D</text>
<text class="g" x="30" y="83.5" font-size="88.4" textLength="10" lengthAdjust="spacingAndGlyphs">G</text><text class="r" x="30" y="100" font-size="22.7" textLength="10" lengthAdjust="spacingAndGlyphs">E</text>
<text class="n" x="40" y="87" font-size="69.5" textLength="10" lengthAdjust="spacingAndGlyphs">S</text><text class="g" x="40" y="100" font-size="17.8" textLength="10" lengthAdjust="spacingAndGlyphs">A</text>
<text class="n" x="50" y="87.5" font-size="67.1" textLength="10" lengthAdjust="spacingAndGlyphs">S</text><text class="g" x="50" y="100" font-size="17.2" textLength="10" lengthAdjust="spacingAndGlyphs">V</text>
<text class="n" x="60" y="87.5" font-size="67.1" textLength="10" lengthAdjust="spacingAndGlyphs">N</text><text class="n" x="60" y="100" font-size="17.2" textLength="10" lengthAdjust="spacingAndGlyphs">S</text>
<text class="n" x="70" y="85.7" font-size="76.6" textLength="10" lengthAdjust="spacingAndGlyphs">S</text><text class="r" x="70" y="100" font-size="19.6" textLength="10" lengthAdjust="spacingAndGlyphs">E</text>
<text class="r" x="80" y="82.8" font-size="91.9" textLength="10" lengthAdjust="spacingAndGlyphs">D</text><text class="r" x="80" y="100" font-size="23.6" textLength="10" lengthAdjust="spacingAndGlyphs">E</text>
<text class="g" x="90" y="85.9" font-size="75.4" textLength="10" lengthAdjust="spacingAndGlyphs">P</text><text class="n" x="90" y="100" font-size="19.3" textLength="10" lengthAdjust="spacingAndGlyphs">Q</text>
<text class="y" x="100" y="100" font-size="151" textLength="10" lengthAdjust="spacingAndGlyphs">F</text>
<text class="g" x="110" y="100" font-size="151" textLength="10" lengthAdjust="spacingAndGlyphs">P</text>
<text class="g" x="120" y="100" font-size="135.9" textLength="10" lengthAdjust="spacingAndGlyphs">A</text>
<text class="g" x="130" y="83.5" font-size="88.4" textLength="10" lengthAdjust="spacingAndGlyphs">G</text><text class="n" x="130" y="100" font-size="22.7" textLength="10" lengthAdjust="spacingAndGlyphs">S</text>
<text class="g" x="140" y="100" font-size="151" textLength="10" lengthAdjust="spacingAndGlyphs">L</text>
<text class="b" x="150" y="100" font-size="151" textLength="10" lengthAdjust="spacingAndGlyphs">R</text>
<text class="g" x="160" y="82.4" font-size="94.2" textLength="10" lengthAdjust="spacingAndGlyphs">V</text><text class="g" x="160" y="100" font-size="24.2" textLength="10" lengthAdjust="spacingAndGlyphs">I</text>
<text class="g" x="170" y="100" font-size="151" textLength="10" lengthAdjust="spacingAndGlyphs">L</text>
<text class="g" x="180" y="100" font-size="151" textLength="10" lengthAdjust="spacingAndGlyphs">V</text>
<text class="g" x="190" y="100" font-size="151" textLength="10" lengthAdjust="spacingAndGlyphs">V</text>
<text class="r" x="200" y="100" font-size="151" textLength="10" lengthAdjust="spacingAndGlyphs">D</text>
<text class="r" x="210" y="100" font-size="151" textLength="10" lengthAdjust="spacingAndGlyphs">D</text>
<text class="r" x="220" y="100" font-size="151" textLength="10" lengthAdjust="spacingAndGlyphs">D</text>
<text class="g" x="230" y="83.5" font-size="88.4" textLength="10" lengthAdjust="spacingAndGlyphs">P</text><text class="n" x="230" y="100" font-size="22.7" textLength="10" lengthAdjust="spacingAndGlyphs">S</text>
<text class="n" x="240" y="100" font-size="143.5" textLength="10" lengthAdjust="spacingAndGlyphs">T</text>
<text class="n" x="250" y="100" font-size="151" textLength="10" lengthAdjust="spacingAndGlyphs">C</text>
<text class="g" x="260" y="100" font-size="151" textLength="10" lengthAdjust="spacingAndGlyphs">L</text>
<text class="g" x="270" y="82.4" font-size="94.2" textLength="10" lengthAdjust="spacingAndGlyphs">M</text><text class="b" x="270" y="100" font-size="24.2" textLength="10" lengthAdjust="spacingAndGlyphs">R</text>
<text class="g" x="280" y="100" font-size="151" textLength="10" lengthAdjust="spacingAndGlyphs">I</text>
<text class="g" x="290" y="100" font-size="151" textLength="10" lengthAdjust="spacingAndGlyphs">L</text>
<text class="r" x="300" y="100" font-size="151" textLength="10" lengthAdjust="spacingAndGlyphs">E</text>
<text class="b" x="310" y="85.7" font-size="76.6" textLength="10" lengthAdjust="spacingAndGlyphs">R</text><text class="n" x="310" y="100" font-size="19.6" textLength="10" lengthAdjust="spacingAndGlyphs">S</text>
<text class="g" x="320" y="82.4" font-size="94.2" textLength="10" lengthAdjust="spacingAndGlyphs">M</text><text class="g" x="320" y="100" font-size="24.2" textLength="10" lengthAdjust="spacingAndGlyphs">L</text>
<text class="g" x="330" y="87.9" font-size="64.8" textLength="10" lengthAdjust="spacingAndGlyphs">L</text><text class="b" x="330" y="100" font-size="16.6" textLength="10" lengthAdjust="spacingAndGlyphs">R</text>
<text class="b" x="340" y="87.9" font-size="64.8" textLength="10" lengthAdjust="spacingAndGlyphs">R</text><text class="b" x="340" y="100" font-size="16.6" textLength="10" lengthAdjust="spacingAndGlyphs">H</text>
<text class="n" x="350" y="81.3" font-size="100.1" textLength="10" lengthAdjust="spacingAndGlyphs">T</text><text class="n" x="350" y="100" font-size="25.7" textLength="10" lengthAdjust="spacingAndGlyphs">S</text>
<text class="n" x="360" y="89" font-size="58.9" textLength="10" lengthAdjust="spacingAndGlyphs">C</text><text class="n" x="360" y="100" font-size="15.1" textLength="10" lengthAdjust="spacingAndGlyphs">S</text>
<text class="g" x="370" y="86.8" font-size="70.7" textLength="10" lengthAdjust="spacingAndGlyphs">L</text><text class="r" x="370" y="100" font-size="18.1" textLength="10" lengthAdjust="spacingAndGlyphs">E</text>
<text class="y" x="380" y="81.3" font-size="100.1" textLength="10" lengthAdjust="spacingAndGlyphs">Y</text><text class="r" x="380" y="100" font-size="25.7" textLength="10" lengthAdjust="spacingAndGlyphs">D</text>
<text class="b" x="390" y="90.1" font-size="53" textLength="10" lengthAdjust="spacingAndGlyphs">R</text><text class="n" x="390" y="100" font-size="13.6" textLength="10" lengthAdjust="spacingAndGlyphs">N</text>
<text class="g" x="400" y="100" font-size="151" textLength="10" lengthAdjust="spacingAndGlyphs">V</text>
<text class="n" x="410" y="100" font-size="151" textLength="10" lengthAdjust="spacingAndGlyphs">T</text>
<text class="b" x="420" y="84.6" font-size="82.5" textLength="10" lengthAdjust="spacingAndGlyphs">K</text><text class="b" x="420" y="100" font-size="21.1" textLength="10" lengthAdjust="spacingAndGlyphs">H</text>
<text class="n" x="430" y="83.5" font-size="88.4" textLength="10" lengthAdjust="spacingAndGlyphs">C</text><text class="g" x="430" y="100" font-size="22.7" textLength="10" lengthAdjust="spacingAndGlyphs">A</text>
<text class="n" x="440" y="84.6" font-size="82.5" textLength="10" lengthAdjust="spacingAndGlyphs">N</text><text class="g" x="440" y="100" font-size="21.1" textLength="10" lengthAdjust="spacingAndGlyphs">G</text>
<text class="b" x="450" y="84.6" font-size="82.5" textLength="10" lengthAdjust="spacingAndGlyphs">R</text><text class="n" x="450" y="100" font-size="21.1" textLength="10" lengthAdjust="spacingAndGlyphs">Q</text>
<text class="g" x="460" y="87.9" font-size="64.8" textLength="10" lengthAdjust="spacingAndGlyphs">A</text><text class="b" x="460" y="100" font-size="16.6" textLength="10" lengthAdjust="spacingAndGlyphs">K</text>
<text class="r" x="470" y="85" font-size="80.1" textLength="10" lengthAdjust="spacingAndGlyphs">E</text><text class="n" x="470" y="100" font-size="20.5" textLength="10" lengthAdjust="spacingAndGlyphs">Q</text>
<text class="g" x="480" y="91.2" font-size="47.1" textLength="10" lengthAdjust="spacingAndGlyphs">I</text><text class="g" x="480" y="100" font-size="12.1" textLength="10" lengthAdjust="spacingAndGlyphs">V</text>
<text class="g" x="490" y="91.2" font-size="47.1" textLength="10" lengthAdjust="spacingAndGlyphs">A</text><text class="b" x="490" y="100" font-size="12.1" textLength="10" lengthAdjust="spacingAndGlyphs">K</text>
</g>
</svg>
